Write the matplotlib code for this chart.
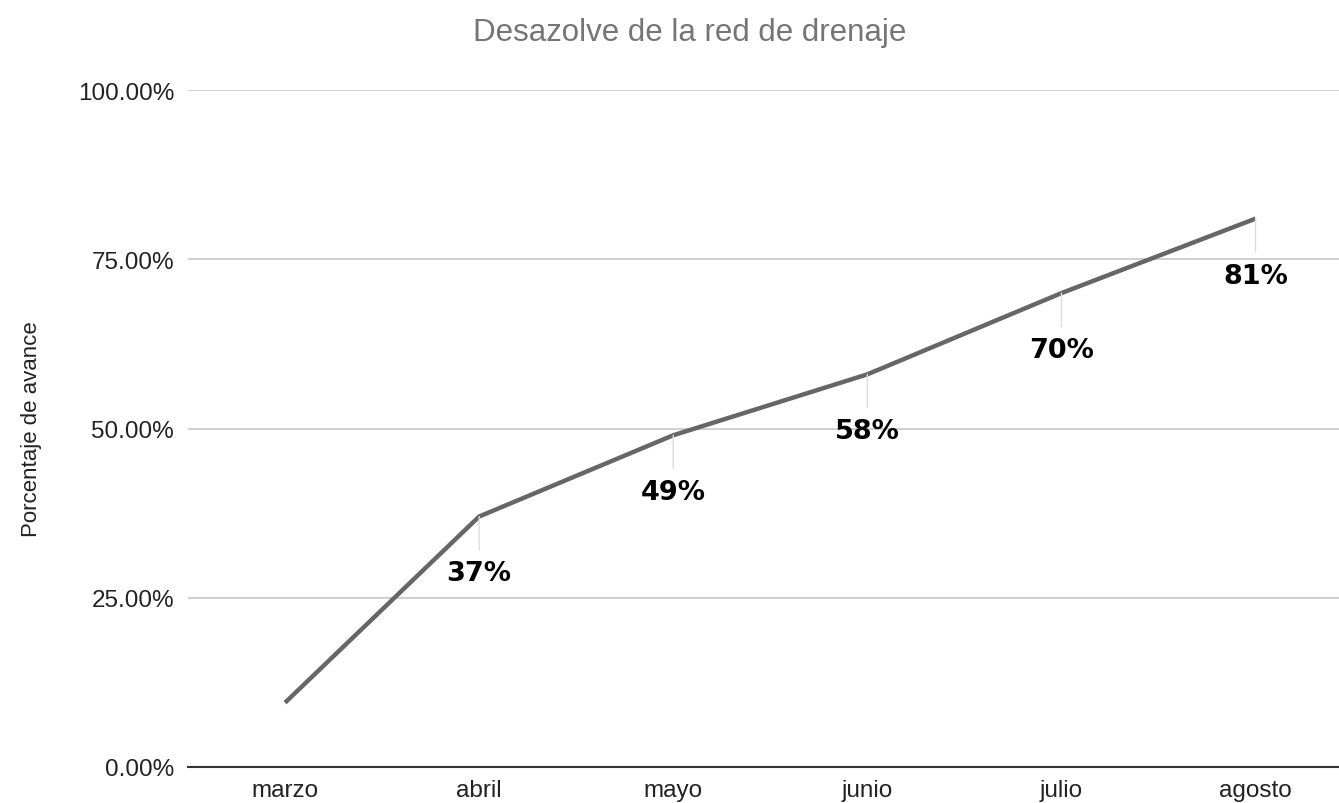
import matplotlib.pyplot as plt

meses = ['marzo', 'abril', 'mayo', 'junio', 'julio', 'agosto']
avance = [9.5, 37, 49, 58, 70, 81]
etiquetas = ['', '37%', '49%', '58%', '70%', '81%']
yticks = [0, 25, 50, 75, 100]

plt.rcParams['font.family'] = ['Liberation Sans', 'DejaVu Sans']

fig = plt.figure(figsize=(13.39, 8.04), dpi=100)
ax = fig.add_axes([188 / 1339, 36 / 804, (1339 - 188) / 1339, (768 - 91) / 804])

x = list(range(len(meses)))
ax.plot(x, avance, color='#666666', linewidth=3.2, solid_capstyle='butt', zorder=3)

# etiquetas con linea guia debajo de cada punto
for xi, yi, txt in zip(x, avance, etiquetas):
    if not txt:
        continue
    ax.annotate('', xy=(xi, yi), xytext=(0, -24), textcoords='offset points',
                arrowprops=dict(arrowstyle='-', color='#dddddd', lw=1, shrinkA=0, shrinkB=0))
    ax.annotate(txt, xy=(xi, yi), xytext=(0, -41), textcoords='offset points',
                ha='center', va='center', fontsize=19.5, fontweight='bold',
                family='DejaVu Sans', color='black', zorder=4)

ax.set_xlim(-0.5, 5.43)
ax.set_ylim(0, 100)
ax.set_xticks(x)
ax.set_xticklabels(meses)
ax.set_yticks(yticks)
ax.set_yticklabels([f'{v:.2f}%' for v in yticks])
ax.tick_params(length=0, labelsize=17.5, colors='#222222', pad=10)
ax.tick_params(axis='x', pad=8.5)

ax.grid(axis='y', color='#cccccc', linewidth=1.3)
ax.set_axisbelow(True)
for s in ['top', 'right', 'left']:
    ax.spines[s].set_visible(False)
ax.spines['bottom'].set_color('#333333')
ax.spines['bottom'].set_linewidth(1.5)

ax.set_ylabel('Porcentaje de avance', fontsize=16, color='#222222', labelpad=26)
fig.text(0.515, 0.959, 'Desazolve de la red de drenaje', ha='center', va='center',
         fontsize=22.5, color='#757575')

fig.savefig('out.png', dpi=100)
